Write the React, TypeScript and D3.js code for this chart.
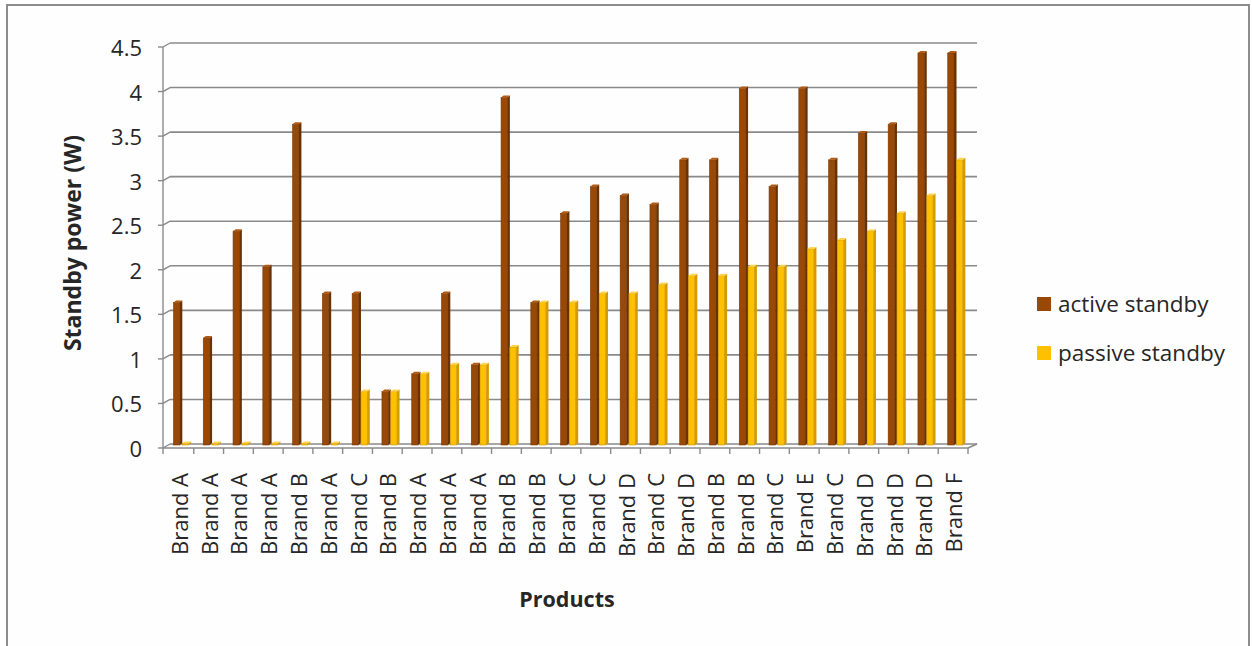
import React from "react";
import * as d3 from "d3";

const categories = [
  "Brand A", "Brand A", "Brand A", "Brand A", "Brand B", "Brand A", "Brand C", "Brand B", "Brand A",
  "Brand A", "Brand A", "Brand B", "Brand B", "Brand C", "Brand C", "Brand D", "Brand C", "Brand D",
  "Brand B", "Brand B", "Brand C", "Brand E", "Brand C", "Brand D", "Brand D", "Brand D", "Brand F",
];
const activeStandby = [
  1.6, 1.2, 2.4, 2.0, 3.6, 1.7, 1.7, 0.6, 0.8, 1.7, 0.9, 3.9, 1.6, 2.6, 2.9, 2.8, 2.7, 3.2, 3.2, 4.0,
  2.9, 4.0, 3.2, 3.5, 3.6, 4.4, 4.4,
];
const passiveStandby = [
  0, 0, 0, 0, 0, 0, 0.6, 0.6, 0.8, 0.9, 0.9, 1.1, 1.6, 1.6, 1.7, 1.7, 1.8, 1.9, 1.9, 2.0, 2.0, 2.2,
  2.3, 2.4, 2.6, 2.8, 3.2,
];
const yTicks = [0, 0.5, 1, 1.5, 2, 2.5, 3, 3.5, 4, 4.5];
const seriesNames = ["active standby", "passive standby"];

const W = 1252;
const H = 646;
const FONT = "'Open Sans', Calibri, sans-serif";

const ACTIVE = { front: "#984807", side: "#6a3103", top: "#b35a12", edge: "#7a3905" };
const PASSIVE = { front: "#ffc000", side: "#d49a00", top: "#ffd44f", edge: "#c99500" };

export default function App() {
  const x = d3
    .scaleBand<number>()
    .domain(categories.map((_, i) => i))
    .range([164, 968])
    .paddingInner(0)
    .paddingOuter(0);
  const yBar = d3.scaleLinear().domain([0, 4.5]).range([445, 44]);
  const yBack = (v: number) => yBar(v) - 1;
  const yFront = (v: number) => yBar(v) + 3;

  const depthX = 2.5;
  const depthY = 2;
  const barW = 8.8;

  const bar = (
    x0: number,
    v: number,
    c: { front: string; side: string; top: string; edge: string },
    key: string
  ) => {
    const top = v > 0 ? yBar(v) : yBar(0) - 1.5;
    const bottom = yBar(0);
    const fw = barW - depthX;
    return (
      <g key={key}>
        <rect x={x0} y={top} width={fw} height={bottom - top} fill={c.front} stroke={c.edge} strokeWidth={0.6} />
        <polygon
          points={`${x0 + fw},${top} ${x0 + barW},${top - depthY} ${x0 + barW},${bottom - depthY} ${x0 + fw},${bottom}`}
          fill={c.side}
        />
        <polygon
          points={`${x0},${top} ${x0 + depthX},${top - depthY} ${x0 + barW},${top - depthY} ${x0 + fw},${top}`}
          fill={c.top}
        />
      </g>
    );
  };

  const left = x.range()[0];
  const right = x.range()[1];

  return (
    <svg
      width={W}
      height={H}
      style={{ position: "absolute", left: 0, top: 0, background: "#fff" }}
      fontFamily={FONT}
    >
      <rect x={0} y={0} width={W} height={H} fill="#fff" />
      {/* frame */}
      <rect x={7} y={5} width={1242} height={H + 10} fill="#fefefe" stroke="#8c8c8c" strokeWidth={2} />

      {/* gridlines on back wall with slanted connectors */}
      {yTicks.map((t) => (
        <g key={`g${t}`}>
          <line x1={left + 6} x2={right + 9} y1={yBack(t)} y2={yBack(t)} stroke="#8a8a8a" strokeWidth={1.6} />
          <line x1={left - 1} x2={left + 6} y1={yFront(t)} y2={yBack(t)} stroke="#8a8a8a" strokeWidth={1.4} />
          <line x1={left - 6} x2={left - 1} y1={yFront(t)} y2={yFront(t)} stroke="#8a8a8a" strokeWidth={1.4} />
          <text
            x={left - 22}
            y={yFront(t)}
            textAnchor="end"
            dominantBaseline="central"
            fontSize={22}
            fill="#262626"
          >
            {t}
          </text>
        </g>
      ))}
      {/* y axis line */}
      <line x1={left - 1} x2={left - 1} y1={yFront(4.5)} y2={yFront(0)} stroke="#8a8a8a" strokeWidth={1.4} />

      {/* floor */}
      <line x1={left - 1} x2={right} y1={yFront(0)} y2={yFront(0)} stroke="#8a8a8a" strokeWidth={1.4} />
      <line x1={right} x2={right + 9} y1={yFront(0)} y2={yBack(0)} stroke="#8a8a8a" strokeWidth={1.4} />
      {categories.map((_, i) => (
        <line
          key={`t${i}`}
          x1={(x(i) as number) + x.bandwidth()}
          x2={(x(i) as number) + x.bandwidth()}
          y1={yFront(0)}
          y2={yFront(0) + 6}
          stroke="#8a8a8a"
          strokeWidth={1.4}
        />
      ))}
      <line x1={left - 1} x2={left - 1} y1={yFront(0)} y2={yFront(0) + 6} stroke="#8a8a8a" strokeWidth={1.4} />

      {/* bars */}
      {categories.map((_, i) => {
        const x0 = (x(i) as number) + 9.5;
        return (
          <g key={`b${i}`}>
            {bar(x0, activeStandby[i], ACTIVE, `a${i}`)}
            {bar(x0 + barW, passiveStandby[i], PASSIVE, `p${i}`)}
          </g>
        );
      })}

      {/* x labels */}
      {categories.map((c, i) => {
        const cx = (x(i) as number) + x.bandwidth() / 2;
        return (
          <text
            key={`l${i}`}
            transform={`translate(${cx},473) rotate(-90)`}
            textAnchor="end"
            dominantBaseline="central"
            fontSize={22}
            fill="#262626"
          >
            {c}
          </text>
        );
      })}

      {/* axis titles */}
      <text
        transform={`translate(72,243) rotate(-90)`}
        textAnchor="middle"
        dominantBaseline="central"
        fontSize={23}
        fontWeight="bold"
        fill="#262626"
      >
        Standby power (W)
      </text>
      <text x={567} y={598} textAnchor="middle" dominantBaseline="central" fontSize={21.5} fontWeight="bold" fill="#262626">
        Products
      </text>

      {/* legend */}
      {seriesNames.map((s, i) => (
        <g key={s}>
          <rect x={1037} y={297 + i * 49} width={14} height={14} fill={i === 0 ? ACTIVE.front : PASSIVE.front} />
          <text x={1058} y={303 + i * 49} dominantBaseline="central" fontSize={22.5} fill="#262626">
            {s}
          </text>
        </g>
      ))}
    </svg>
  );
}
